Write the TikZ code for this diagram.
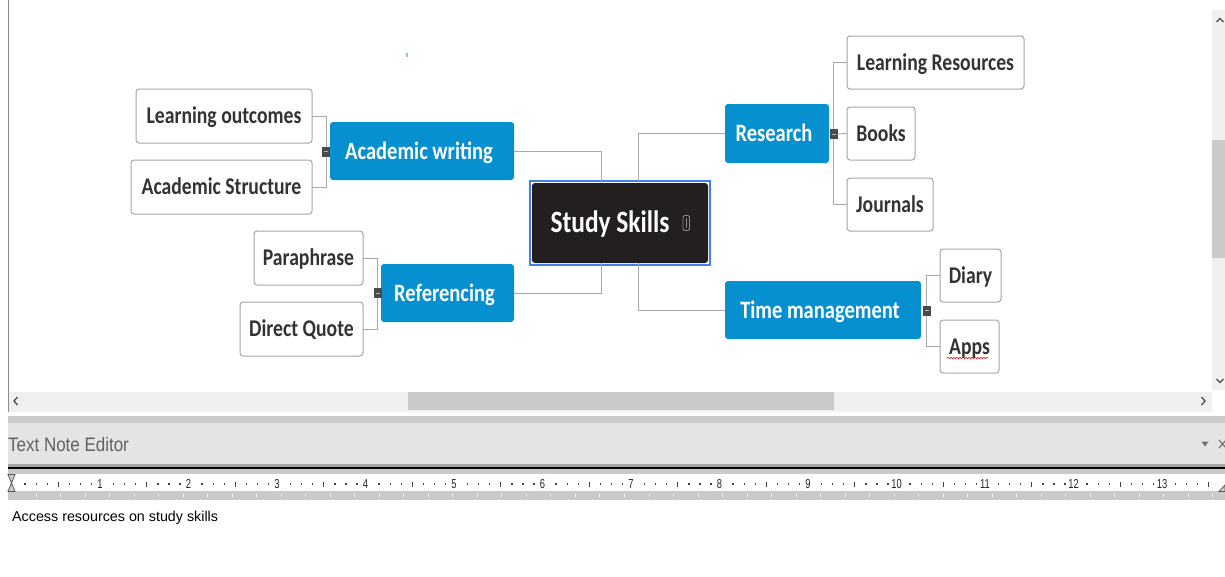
\documentclass[tikz,border=0pt]{standalone}
\usepackage{fontspec}
\usetikzlibrary{decorations.pathmorphing}

\newfontfamily\mapfont[FakeStretch=0.82]{Carlito}
\newfontfamily\uifont[FakeStretch=0.87]{Liberation Sans}
\newfontfamily\rulerfont[FakeStretch=0.72]{Liberation Sans}
\newfontfamily\notefont{Liberation Sans}

\definecolor{topicblue}{RGB}{7,144,207}
\definecolor{hubblack}{RGB}{35,31,32}
\definecolor{selblue}{RGB}{66,128,240}
\definecolor{linegrey}{RGB}{168,168,168}
\definecolor{boxgrey}{RGB}{165,165,165}
\definecolor{leaftext}{RGB}{51,51,51}
\definecolor{knobgrey}{RGB}{74,74,74}
\definecolor{trackgrey}{RGB}{240,240,240}
\definecolor{thumbgrey}{RGB}{202,202,202}
\definecolor{panelgrey}{RGB}{228,228,228}

\tikzset{
  hub/.style={fill=hubblack, text=white, rounded corners=3pt, minimum width=176pt,
    minimum height=80pt, inner sep=0pt, outer sep=0pt, text height=19.5pt, text depth=0pt,
    font=\mapfont\bfseries\fontsize{31}{31}\selectfont},
  topic/.style={fill=topicblue, text=white, rounded corners=3pt, minimum height=58pt,
    inner sep=0pt, outer sep=0pt, text height=16pt, text depth=0pt,
    execute at end node=\hspace*{6pt},
    font=\mapfont\bfseries\fontsize{25}{25}\selectfont},
  leaf/.style={draw=boxgrey, line width=1pt, fill=white, text=leaftext, rounded corners=3pt,
    minimum height=53pt, inner sep=0pt, outer sep=0pt, text height=15.5pt, text depth=0pt,
    font=\mapfont\bfseries\fontsize{24}{24}\selectfont},
  knob/.style={fill=knobgrey, minimum width=8pt, minimum height=10pt, inner sep=0pt, outer sep=0pt,
    path picture={\draw[white!60!knobgrey, line width=1pt]
      ([xshift=-2pt]path picture bounding box.center) -- ([xshift=2pt]path picture bounding box.center);}},
  link/.style={draw=linegrey, line width=1pt},
  chevron/.style={draw=black!70, line width=1.3pt},
}

\begin{document}
\begin{tikzpicture}[x=1pt, y=-1pt]
  \useasboundingbox (0,0) rectangle (1225,576);
  \fill[white] (0,0) rectangle (1225,576);

  % map canvas with its scroll bars
  \draw[black!45, line width=1pt] (8.5,0) -- (8.5,412);
  \fill[trackgrey] (1212,10) rectangle (1225,390);
  \fill[thumbgrey] (1212,140) rectangle (1225,258);
  \fill[trackgrey] (9,392) rectangle (1212,412);
  \fill[thumbgrey] (408,392) rectangle (834,410);
  \draw[chevron] (17.5,397) -- (14,401) -- (17.5,405);
  \draw[chevron] (1201.5,397) -- (1205,401) -- (1201.5,405);
  \draw[chevron] (1216.5,22) -- (1220,18.5) -- (1223.5,22);
  \draw[chevron] (1216.5,379) -- (1220,382.5) -- (1223.5,379);

  % note editor panel
  \fill[thumbgrey] (8,416) rectangle (1225,423);
  \fill[panelgrey] (8,423) rectangle (1225,464);
  \fill[black!35] (8,464) rectangle (1225,467);
  \fill[black] (8,467) rectangle (1225,469);
  \fill[thumbgrey] (8,469) rectangle (1225,474);
  \fill[white] (8,474) rectangle (1216,491);
  \fill[thumbgrey] (8,491) rectangle (1225,500);
  \node[anchor=base west, inner sep=0pt, text=black!62,
    font=\uifont\fontsize{19.5}{19.5}\selectfont] (edtitle) at (8,451.7) {Text Note Editor};
  \fill[black!55] (1201.5,441.5) -- (1208.5,441.5) -- (1205,446.5) -- cycle;
  \draw[black!55, line width=1.2pt] (1219,440) -- (1226,448) (1219,448) -- (1226,440);

  % ruler
  \foreach \n in {1,...,13}
    \node[inner sep=0pt, text=black!85, font=\rulerfont\fontsize{13}{13}\selectfont]
      (tick\n) at (11.5+88.5*\n, 484) {\n};
  \foreach \n in {0,...,12}{
    \foreach \k in {1,2,3,5,6,7}
      \fill[black!75] (13.4+88.5*\n+11.06*\k, 483.4) rectangle ++(1.4,1.4);
    \draw[black!75, line width=1pt] (14+88.5*\n+44.25, 481.5) -- ++(0,5);
  }
  \foreach \k in {1,2,3}
    \fill[black!75] (13.4+88.5*13+11.06*\k, 483.4) rectangle ++(1.4,1.4);
  \draw[black!75, line width=1pt] (14+88.5*13+44.25, 481.5) -- ++(0,5);
  \foreach \k in {0,...,48}
    \draw[white!80!thumbgrey, line width=1pt] (36+24.52*\k, 494) -- ++(0,3);
  \filldraw[fill=black!20, draw=black!65, line width=0.8pt]
    (8,474.5) -- (15,474.5) -- (11.5,483) -- cycle
    (8,491.5) -- (15,491.5) -- (11.5,483) -- cycle;
  \filldraw[fill=black!20, draw=black!65, line width=0.8pt]
    (1219,491.5) -- (1225,491.5) -- (1225,485) -- cycle;

  \node[anchor=base west, inner sep=0pt, font=\notefont\fontsize{14.3}{14.3}\selectfont]
    (note) at (12,521.7) {Access resources on study skills};

  \fill[teal!45] (405.5,53) rectangle (408,57);

  % central topic
  \node[hub] (hub) at (620,223) {Study Skills\hspace*{20pt}};
  \draw[selblue, line width=2pt] ([shift={(-2pt,2pt)}]hub.north west) rectangle ([shift={(2pt,-2pt)}]hub.south east);
  \draw[black!45, fill=hubblack, line width=0.9pt, rounded corners=1.5pt]
    ([shift={(-25pt,7.5pt)}]hub.east) rectangle ([shift={(-18.5pt,-7.5pt)}]hub.east);
  \draw[black!45, line width=0.7pt] ([shift={(-21.7pt,5pt)}]hub.east) -- ([shift={(-21.7pt,-5pt)}]hub.east);

  % main topics
  \node[topic, minimum width=184pt] (aw) at (422,151) {Academic writing};
  \node[topic, minimum width=133pt] (ref) at (447.5,293) {Referencing};
  \node[topic, minimum width=104pt, minimum height=59pt] (res) at (777,133.5) {Research};
  \node[topic, minimum width=196pt] (tm) at (823,310) {Time management};

  \draw[link] (aw.east) -| ([xshift=-19pt]hub.north);
  \draw[link] (ref.east) -| ([xshift=-19pt]hub.south);
  \draw[link] (res.west) -| ([xshift=18pt]hub.north);
  \draw[link] (tm.west) -| ([xshift=18pt]hub.south);

  % subtopics
  \node[leaf, minimum width=176pt, minimum height=54pt] (lo) at (224,116) {Learning outcomes};
  \node[leaf, minimum width=181pt, minimum height=54pt] (as) at (221.5,187) {Academic Structure};
  \node[leaf, minimum width=109pt, minimum height=54pt] (para) at (308.5,258) {Paraphrase};
  \node[leaf, minimum width=123pt, minimum height=54pt] (dq) at (301.5,329) {Direct Quote};
  \node[leaf, minimum width=177pt] (lr) at (935.5,62.5) {Learning Resources};
  \node[leaf, minimum width=68pt] (books) at (881,133.5) {Books};
  \node[leaf, minimum width=86pt] (jour) at (890,204.5) {Journals};
  \node[leaf, minimum width=61pt] (diary) at (970.5,275.5) {Diary};
  \node[leaf, minimum width=59pt] (apps) at (969.5,346.5) {Apps};
  \draw[red, line width=0.6pt, decorate, decoration={snake, amplitude=0.8pt, segment length=3pt}]
    ([shift={(-22.5pt,-11.5pt)}]apps.center) -- ([shift={(18.5pt,-11.5pt)}]apps.center);

  % collapse knobs and their links
  \node[knob] (awk) at (326,151.7) {};
  \node[knob] (refk) at (377.5,293) {};
  \node[knob] (resk) at (833.5,134) {};
  \node[knob] (tmk) at (926.7,310.5) {};

  \draw[link] (awk.north) |- (lo.east);
  \draw[link] (awk.south) |- (as.east);
  \draw[link] (refk.north) |- (para.east);
  \draw[link] (refk.south) |- (dq.east);
  \draw[link] (resk.north) |- (lr.west);
  \draw[link] (resk.east) -- (books.west);
  \draw[link] (resk.south) |- (jour.west);
  \draw[link] (tmk.north) |- (diary.west);
  \draw[link] (tmk.south) |- (apps.west);
\end{tikzpicture}
\end{document}
